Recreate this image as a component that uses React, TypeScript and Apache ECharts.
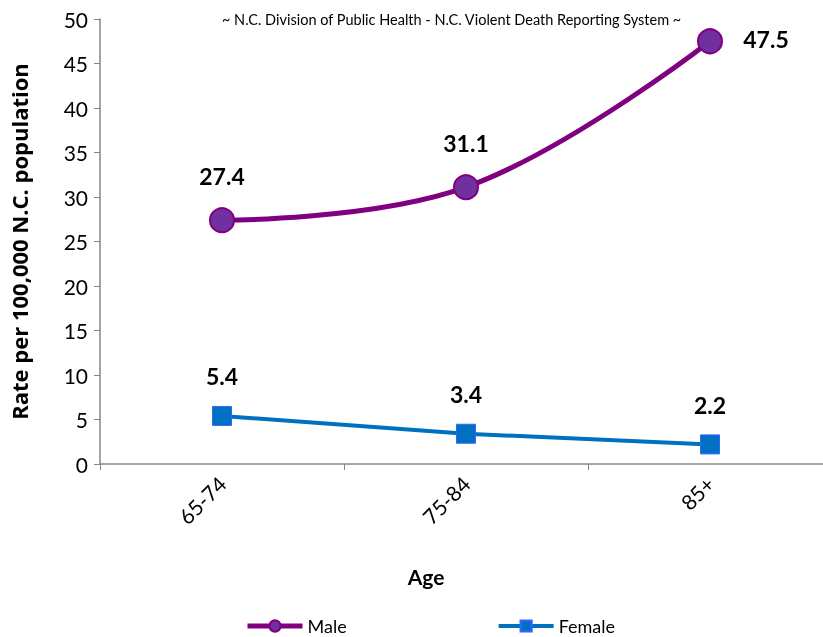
import React, { useEffect, useRef } from "react";
import * as echarts from "echarts";

const categories = ["65-74", "75-84", "85+"];
const maleValues = [27.4, 31.1, 47.5];
const femaleValues = [5.4, 3.4, 2.2];
const yTicks = { min: 0, max: 50, interval: 5 };
const subtitle = "~ N.C. Division of Public Health - N.C. Violent Death Reporting System ~";

const FONT = "Lato, 'Open Sans', sans-serif";

export default function App() {
  const ref = useRef<HTMLDivElement>(null);
  useEffect(() => {
    if (!ref.current) return;
    const chart = echarts.init(ref.current, null, { renderer: "svg" });
    chart.setOption({
      animation: false,
      textStyle: { fontFamily: FONT },
      grid: { left: 93, top: 19, bottom: 173, right: 0, containLabel: false },
      graphic: [
        {
          type: "text",
          left: 222,
          top: 12,
          style: { text: subtitle, fontSize: 14.5, fontFamily: FONT, fill: "#000" },
        },
      ],
      legend: {
        bottom: -3,
        left: 240,
        itemWidth: 55,
        itemHeight: 14,
        itemGap: 150,
        textStyle: { fontSize: 18, color: "#000", fontFamily: FONT },
        data: [
          { name: "Male", lineStyle: { width: 5 } },
          { name: "Female", lineStyle: { width: 4 } },
        ],
      },
      xAxis: {
        type: "category",
        data: categories,
        boundaryGap: true,
        axisLine: { lineStyle: { color: "#868686", width: 1.5 } },
        axisTick: { show: true, inside: false, length: 6, lineStyle: { color: "#868686" } },
        axisLabel: { rotate: 45, fontSize: 21, color: "#000", margin: 16, fontFamily: FONT },
        name: "Age",
        nameLocation: "middle",
        nameGap: 102,
        nameTextStyle: { fontSize: 21, fontWeight: "bold", color: "#000", fontFamily: FONT, padding: [0, 80, 0, 0] },
      },
      yAxis: {
        type: "value",
        min: yTicks.min,
        max: yTicks.max,
        interval: yTicks.interval,
        splitLine: { show: false },
        axisLine: { show: true, lineStyle: { color: "#868686", width: 1.5 } },
        axisTick: { show: true, length: 6, lineStyle: { color: "#868686" } },
        axisLabel: { fontSize: 21, color: "#000", margin: 12, fontFamily: FONT },
        name: "Rate per 100,000 N.C. population",
        nameLocation: "middle",
        nameGap: 70,
        nameRotate: 90,
        nameTextStyle: { fontSize: 22, fontWeight: "bold", color: "#000", fontFamily: "'Open Sans', sans-serif" },
      },
      series: [
        {
          name: "Male",
          type: "line",
          data: maleValues,
          smooth: 0.4,
          symbol: "circle",
          symbolSize: 24,
          lineStyle: { color: "#800080", width: 5 },
          itemStyle: { color: "#7030A0", borderColor: "#800080", borderWidth: 2 },
          label: {
            show: true,
            position: "top",
            distance: 20,
            fontSize: 23,
            fontWeight: "bold",
            color: "#000",
            fontFamily: FONT,
          },
          labelLayout: (params: any) =>
            params.dataIndex === 2 ? { dx: 56, dy: 42 } : {},
        },
        {
          name: "Female",
          type: "line",
          data: femaleValues,
          symbol: "rect",
          symbolSize: 19,
          lineStyle: { color: "#0070C0", width: 4 },
          itemStyle: { color: "#0070C0", borderColor: "#3366FF", borderWidth: 1 },
          label: {
            show: true,
            position: "top",
            distance: 18,
            fontSize: 23,
            fontWeight: "bold",
            color: "#000",
            fontFamily: FONT,
          },
        },
      ],
    });
    return () => chart.dispose();
  }, []);
  return (
    <div
      ref={ref}
      style={{ position: "fixed", left: 0, top: 0, width: 832, height: 637 }}
    />
  );
}
